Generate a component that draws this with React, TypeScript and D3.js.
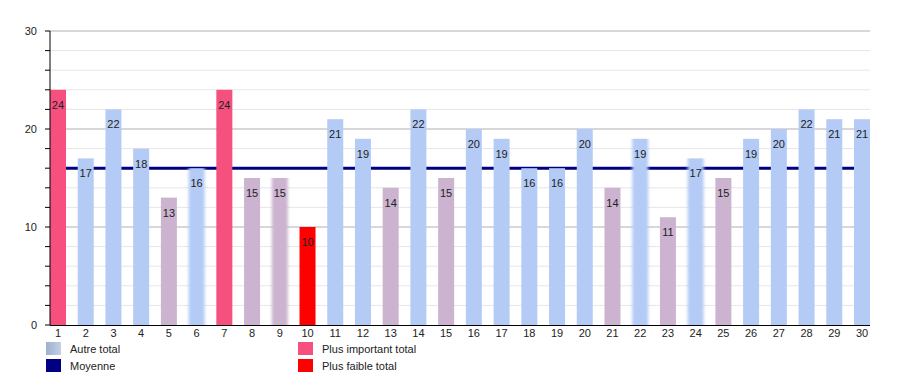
import React from "react";
import * as d3 from "d3";

const categories: string[] = Array.from({ length: 30 }, (_, i) => String(i + 1));
const totals: number[] = [24, 17, 22, 18, 13, 16, 24, 15, 15, 10, 21, 19, 14, 22, 15, 20, 19, 16, 16, 20, 14, 19, 11, 17, 15, 19, 20, 22, 21, 21];
const average = 16;
const yTicks: number[] = [0, 10, 20, 30];
const softBars: number[] = [6, 9, 22, 24];
const legendItems = [
  { label: "Autre total", key: "other" },
  { label: "Moyenne", key: "avg" },
  { label: "Plus important total", key: "max" },
  { label: "Plus faible total", key: "min" },
];

const W = 900, H = 375;
const left = 50, right = 870, top = 31, bottom = 325;
const FONT = "'Liberation Sans', Arial, sans-serif";

export default function App() {
  const x = d3.scaleBand<string>().domain(categories).range([left, right]).paddingInner(0.423).paddingOuter(0);
  const y = d3.scaleLinear().domain([0, 30]).range([bottom, top]);
  const maxV = d3.max(totals)!;
  const minV = d3.min(totals)!;
  const colorOf = (v: number) =>
    v === maxV ? "#f5507e" : v === minV ? "#ff0000" : v < average ? "#ccb3d0" : "#b4cbf6";
  const minor = d3.range(2, 30, 2).filter((v) => v % 10 !== 0);
  return (
    <svg width={W} height={H} style={{ position: "absolute", left: 0, top: 0 }} fontFamily={FONT}>
      <defs>
        <filter id="soft" x="-30%" y="-5%" width="160%" height="110%">
          <feGaussianBlur stdDeviation="1.6 0" />
        </filter>
        <linearGradient id="otherGrad" x1="0" x2="1" y1="0" y2="0">
          <stop offset="0" stopColor="#9fb0cc" />
          <stop offset="1" stopColor="#c3d0e6" />
        </linearGradient>
      </defs>
      <rect width={W} height={H} fill="#fff" />
      {minor.map((v) => (
        <line key={"m" + v} x1={left} x2={right} y1={y(v)} y2={y(v)} stroke="#e6e6e6" strokeWidth={1} />
      ))}
      {[10, 20, 30].map((v) => (
        <line key={"g" + v} x1={left} x2={right} y1={y(v)} y2={y(v)} stroke="#b0b0b0" strokeWidth={1} />
      ))}
      <line x1={left} x2={right} y1={y(average)} y2={y(average)} stroke="#000080" strokeWidth={3} />
      {totals.map((v, i) => (
        <rect
          key={"b" + i}
          x={x(categories[i])!}
          y={y(v)}
          width={x.bandwidth()}
          height={bottom - y(v)}
          fill={colorOf(v)}
          filter={softBars.includes(i + 1) ? "url(#soft)" : undefined}
        />
      ))}
      {totals.map((v, i) => (
        <text
          key={"t" + i}
          x={x(categories[i])! + x.bandwidth() / 2}
          y={y(v) + 19}
          textAnchor="middle"
          fontSize={11}
          fill="#222"
        >
          {v}
        </text>
      ))}
      <line x1={left} x2={left} y1={top} y2={bottom} stroke="#000" strokeWidth={1} />
      <line x1={left} x2={right} y1={bottom + 0.5} y2={bottom + 0.5} stroke="#000" strokeWidth={1.2} />
      {d3.range(0, 31, 2).map((v) => (
        <line key={"tk" + v} x1={left - 5} x2={left} y1={y(v)} y2={y(v)} stroke="#000" strokeWidth={1} />
      ))}
      {yTicks.map((v) => (
        <text key={"yl" + v} x={37} y={y(v) + 4} textAnchor="end" fontSize={11} fill="#222">
          {v}
        </text>
      ))}
      {categories.map((c) => (
        <text key={"xl" + c} x={x(c)! + x.bandwidth() / 2} y={bottom + 12} textAnchor="middle" fontSize={11} fill="#222">
          {c}
        </text>
      ))}
      {legendItems.map((it, i) => {
        const col = Math.floor(i / 2);
        const row = i % 2;
        const lx = col === 0 ? 46 : 298;
        const ly = 342 + row * 17;
        const fill =
          it.key === "other" ? "url(#otherGrad)" : it.key === "avg" ? "#000080" : it.key === "max" ? "#f5507e" : "#ff0000";
        return (
          <g key={it.key}>
            <rect x={lx} y={ly} width={15} height={13} fill={fill} />
            <text x={lx + 24} y={ly + 11} fontSize={11} fill="#222">
              {it.label}
            </text>
          </g>
        );
      })}
    </svg>
  );
}
